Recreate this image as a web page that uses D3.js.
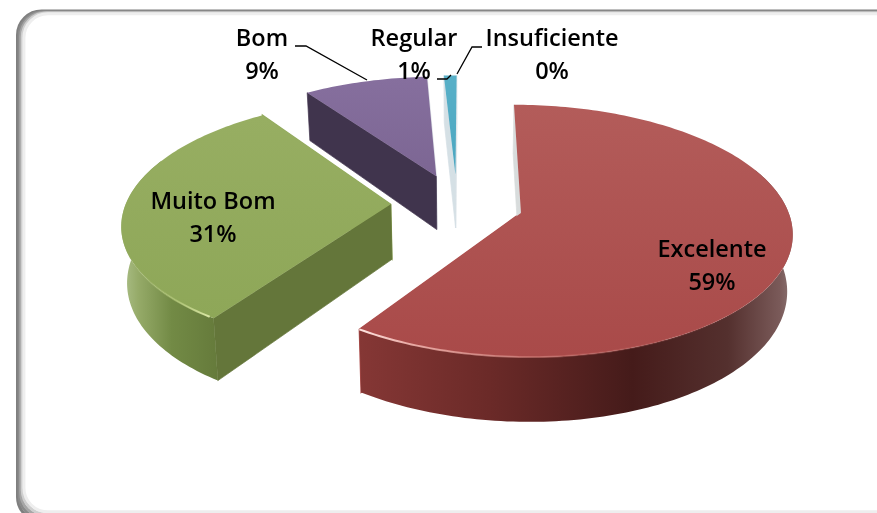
<!DOCTYPE html>
<html lang="en">
	<head>
		<meta charset="utf-8">
		<title>D3: 3D exploded pie</title>
		<script type="text/javascript" src="https://cdn.jsdelivr.net/npm/d3@7"></script>
		<style type="text/css">
			html, body { margin: 0; padding: 0; background: #fff; overflow: hidden; }
			svg { display: block; filter: blur(0.4px); }
			text { font-family: "Open Sans", Lato, sans-serif; font-size: 23.5px; font-weight: 600; fill: #000; text-anchor: middle; }
		</style>
	</head>
	<body>
		<script type="text/javascript">
			var categories = ["Excelente", "Muito Bom", "Bom", "Regular", "Insuficiente"];
			// slightly off the printed percentages, read from the slice edges
			var values = [59.4, 30.9, 8.8, 0.9, 0];
			var percentLabels = ["59%", "31%", "9%", "1%", "0%"];

			var width = 877, height = 513;

			// perspective of the pie plane, fitted on the picture
			var vanishX = 465, vanishY = -653, centerX = 457, centerY = 204;
			var radius = 265, depth = 55, viewDist = 7.08, explode = 0.25, lean = 0.017;

			var topColors = [["#b35c5a", "#a94a49"], ["#97ae62", "#8ea758"], ["#866f9e", "#7c6693"], ["#58b0c8", "#4aa6c0"], ["#fff", "#fff"]];
			var startWall = ["#d8dcdc", "#64763a", "#40344d", "#d5e0e5", "#fff"];
			var endWall = ["#ad4f4d", "#93ab5e", "#dfe3e8", "#dfe6ea", "#fff"];
			var sideStops = [
				[[0, "#853735"], [0.3, "#6b2a28"], [0.63, "#451b1a"], [0.85, "#54302e"], [0.97, "#7a5a59"], [1, "#8d7675"]],
				[[0, "#adc08a"], [0.12, "#95aa68"], [0.35, "#728a45"], [0.7, "#64793a"], [1, "#5f7336"]],
				[[0, "#40344d"], [1, "#40344d"]],
				[[0, "#d5e0e5"], [1, "#d5e0e5"]],
				[[0, "#fff"], [1, "#fff"]]
			];
			var rimStops = [
				[[0, "#ffe6e2", 1], [0.12, "#f2b6b0", 0.9], [0.5, "#c96f6a", 0.5], [1, "#ad4f4d", 0]],
				[[0, "#a0b56c", 0], [0.6, "#b3c878", 0.7], [1, "#dbe8a6", 1]]
			];
			var rimRanges = [[2.05, 3.75], [3.75, 4.7]];
			// the outer wall only shows on the near half of the disk
			var wallRange = [1.2, 5.1];

			var labelX = [712, 213, 262, 414, 552];
			var labelY = [257, 209, 46, 46, 46];
			var leaderLines = [null, null,
				[[295, 46], [306, 46], [367, 80]],
				[[437, 79], [447, 79], [451, 75]],
				[[482, 47], [472, 47], [457, 74]]
			];

			var svg = d3.select("body").append("svg")
				.attr("width", width)
				.attr("height", height);
			var defs = svg.append("defs");

			//frame, only left, top and a bit of the bottom fall inside the window
			var frameColors = ["#7f7f7f", "#8a8a8a", "#a6a6a6", "#cfcfcf", "#eeeeee"];
			frameColors.forEach(function(c, i) {
				svg.append("rect")
					.attr("x", 17.5 + i * 1.6)
					.attr("y", 11 + i * 0.7)
					.attr("width", 900)
					.attr("height", 510 - i * 3)
					.attr("rx", 24)
					.attr("fill", i == frameColors.length - 1 ? "#fff" : "none")
					.attr("stroke", c)
					.attr("stroke-width", 3);
			});

			var pie = d3.pie().sort(null).startAngle(0).endAngle(2 * Math.PI);
			var slices = pie(values);

			//disk coordinates to screen, v grows towards the viewer
			function project(u, v, lifted) {
				var w = 1 / (1 - v / viewDist);
				var x = vanishX + (centerX - vanishX + radius * u) * w;
				var y = vanishY + (centerY - vanishY) * w;
				if (lifted) {
					y += depth * w;
					x = vanishX + (x - vanishX) * (1 - lean);
				}
				return [x, y];
			}

			function offset(d) {
				var mid = (d.startAngle + d.endAngle) / 2;
				return [explode * Math.sin(mid), -explode * Math.cos(mid)];
			}

			function rimPoint(d, a, lifted) {
				var o = offset(d);
				return project(o[0] + Math.sin(a), o[1] - Math.cos(a), lifted);
			}

			function arcPoints(d, a0, a1, lifted) {
				var n = Math.max(2, Math.ceil((a1 - a0) / 0.02));
				return d3.range(n + 1).map(function(i) {
					return rimPoint(d, a0 + (a1 - a0) * i / n, lifted);
				});
			}

			var line = d3.line();
			var polygon = function(pts) { return line(pts) + "Z"; };

			function addGradient(id, stops, x1, y1, x2, y2) {
				var g = defs.append("linearGradient")
					.attr("id", id)
					.attr("gradientUnits", "userSpaceOnUse")
					.attr("x1", x1).attr("y1", y1)
					.attr("x2", x2).attr("y2", y2);
				stops.forEach(function(s) {
					g.append("stop")
						.attr("offset", s[0])
						.attr("stop-color", s[1])
						.attr("stop-opacity", s.length > 2 ? s[2] : 1);
				});
			}

			//painter order: back slices first
			d3.range(slices.length - 1, -1, -1).forEach(function(i) {
				var d = slices[i];
				if (d.value == 0) return;
				var o = offset(d);
				var apex = project(o[0], o[1], false);
				var apexLow = project(o[0], o[1], true);
				var g = svg.append("g");

				var upper = arcPoints(d, d.startAngle, d.endAngle, false);
				var low = arcPoints(d, d.startAngle, d.endAngle, true);

				var xs = low.concat(upper).map(function(p) { return p[0]; });
				var ys = upper.map(function(p) { return p[1]; }).concat([apex[1]]);
				addGradient("side" + i, sideStops[i], d3.min(xs), 0, d3.max(xs), 0);
				addGradient("top" + i, topColors[i].map(function(c, k) { return [k, c]; }), 0, d3.min(ys), 0, d3.max(ys));

				//radial walls, the end one goes under the start one
				g.append("path")
					.attr("d", polygon([apex, upper[upper.length - 1], low[low.length - 1], apexLow]))
					.attr("fill", endWall[i])
					.attr("stroke", endWall[i])
					.attr("stroke-width", 1.4);
				g.append("path")
					.attr("d", polygon([apex, upper[0], low[0], apexLow]))
					.attr("fill", startWall[i])
					.attr("stroke", startWall[i])
					.attr("stroke-width", 0.7);

				//outer wall
				var w0 = Math.max(wallRange[0], d.startAngle);
				var w1 = Math.min(wallRange[1], d.endAngle);
				if (w1 > w0) {
					g.append("path")
						.attr("d", polygon(arcPoints(d, w0, w1, false).concat(arcPoints(d, w0, w1, true).reverse())))
						.attr("fill", "url(#side" + i + ")");
				}

				//top face
				g.append("path")
					.attr("d", polygon([apex].concat(upper)))
					.attr("fill", "url(#top" + i + ")");

				//light edge
				if (rimStops[i]) {
					var a0 = Math.max(rimRanges[i][0], d.startAngle);
					var a1 = Math.min(rimRanges[i][1], d.endAngle);
					var rim = arcPoints(d, a0, a1, false);
					var p0 = rim[0], p1 = rim[rim.length - 1];
					addGradient("rim" + i, rimStops[i], p1[0], 0, p0[0], 0);
					g.append("path")
						.attr("d", line(rim))
						.attr("fill", "none")
						.attr("stroke", "url(#rim" + i + ")")
						.attr("stroke-width", 2);
				}
			});

			//leader lines
			leaderLines.forEach(function(pts) {
				if (!pts) return;
				svg.append("path")
					.attr("d", line(pts))
					.attr("fill", "none")
					.attr("stroke", "#000")
					.attr("stroke-width", 1.3);
			});

			//labels
			categories.forEach(function(c, i) {
				svg.append("text").attr("x", labelX[i]).attr("y", labelY[i]).text(c);
				svg.append("text").attr("x", labelX[i]).attr("y", labelY[i] + 33).text(percentLabels[i]);
			});
		</script>
	</body>
</html>
